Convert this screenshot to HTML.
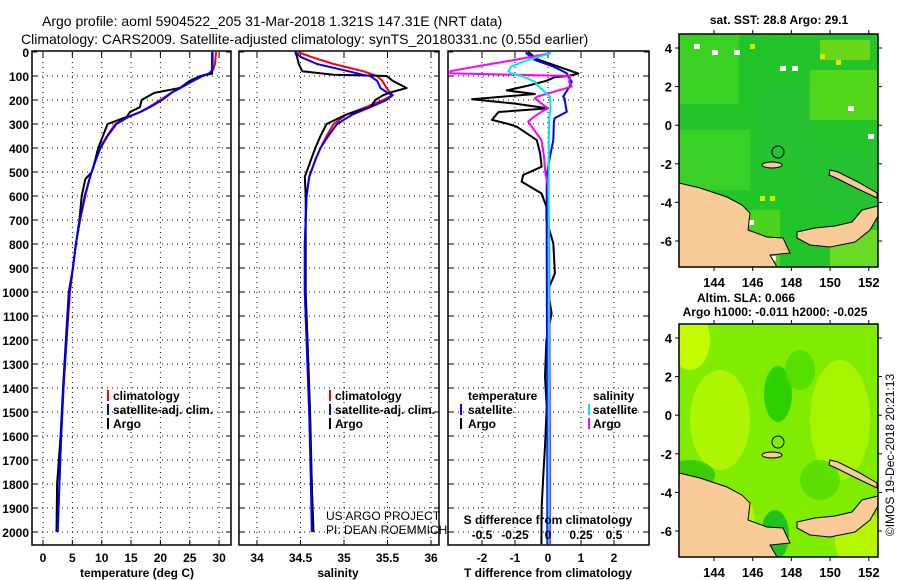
<!DOCTYPE html>
<html><head><meta charset="utf-8"><style>
html,body{margin:0;padding:0;background:#fff;}
svg{display:block;font-family:"Liberation Sans",sans-serif;}
.tk{font-size:12px;font-weight:bold;fill:#000;}
.tt{font-size:14px;fill:#000;}
.lg{font-size:12px;font-weight:bold;fill:#000;}
</style></head><body>
<svg id="chart" width="900" height="580" viewBox="0 0 900 580">
<g id="titles">
<text class="tt" x="42" y="26">Argo profile: aoml 5904522_205 31-Mar-2018 1.321S 147.31E (NRT data)</text>
<text class="tt" x="21" y="44">Climatology: CARS2009. Satellite-adjusted climatology: synTS_20180331.nc (0.55d earlier)</text>
</g>
<g id="panels"></g>
<g id="maps"></g>
<text class="tk" transform="translate(894,455) rotate(-90)" text-anchor="middle" style="font-weight:normal;font-size:12px">©IMOS 19-Dec-2018 20:21:13</text>
</svg>
<script>
// ---- shared depth axis ----
const depthTicks = [0,100,200,300,400,500,600,700,800,900,1000,1100,1200,1300,1400,1500,1600,1700,1800,1900,2000];
// ---- temperature panel data ----
const tDepth = [0,20,50,75,90,100,120,150,170,200,230,250,270,300,350,400,450,500,530,600,700,800,900,1000,1200,1400,1600,1800,2000];
const tempClim = [29.5,29.4,29.3,29.0,28.2,27.0,25.5,23.3,21.8,20.0,18.0,16.5,14.5,12.3,10.9,9.7,9.0,8.3,7.9,7.2,6.3,5.6,5.1,4.6,4.0,3.5,3.1,2.8,2.5];
const tempSat = [28.9,28.9,28.9,28.8,28.4,27.2,25.6,23.4,21.9,20.3,18.2,16.6,14.6,12.5,11.0,9.8,9.0,8.3,7.9,7.1,6.3,5.6,5.1,4.5,4.0,3.5,3.1,2.8,2.5];
const tempArgo = [28.8,28.8,28.8,28.8,28.8,26.8,25.0,23.3,19.0,16.8,16.5,14.8,14.3,11.0,10.2,9.4,8.9,8.3,7.2,6.6,6.2,5.6,5.1,4.4,3.9,3.4,3.0,2.4,2.3];
// ---- salinity panel data ----
const sDepth = [0,20,50,80,95,100,120,150,170,180,200,230,260,300,350,400,450,520,600,800,1000,1200,1500,1800,2000];
const salClim = [34.47,34.62,34.88,35.22,35.34,35.38,35.44,35.49,35.53,35.56,35.45,35.25,35.03,34.88,34.80,34.73,34.67,34.60,34.57,34.55,34.55,34.57,34.60,34.63,34.64];
const salSat = [34.44,34.50,34.69,35.05,35.22,35.30,35.38,35.42,35.50,35.56,35.49,35.30,35.10,34.92,34.82,34.73,34.67,34.60,34.57,34.55,34.55,34.57,34.60,34.62,34.63];
const salArgo = [34.44,34.46,34.48,34.52,34.88,35.49,35.56,35.72,35.52,35.45,35.36,35.30,35.03,34.80,34.73,34.67,34.62,34.55,34.56,34.56,34.56,34.58,34.61,34.63,34.65];
// ---- difference panel data ----
const dtDepth = [0,30,90,100,105,120,140,160,175,197,215,235,250,283,300,311,367,422,478,512,540,589,644,700,797,922,992,1089,1200,1353,1478,1644,1756,1894,2050];
const dtArgo = [-0.6,-0.33,0.92,0.6,0.2,-0.05,-0.6,-1.25,-0.4,-2.3,-1.0,0.0,-1.5,-1.7,-1.2,-0.95,-0.34,-0.24,-0.19,-0.75,-0.8,-0.2,-0.05,-0.05,0.16,0.21,0.0,0.11,-0.05,-0.09,-0.04,-0.09,-0.14,-0.19,-0.2];
const dsDepth = [0,6,33,61,80,89,100,124,144,186,193,235,249,276,290,367,436,506,561,800,1200,1600,2050];
const dtSat = [-0.65,-0.65,-0.4,0.16,0.45,0.57,0.6,0.72,0.65,0.46,0.5,0.55,0.57,0.2,0.18,0.16,0.06,-0.03,-0.04,-0.04,-0.03,-0.02,-0.02];
const dsArgo = [0.015,0.015,-0.25,-0.55,-0.74,-0.74,0.17,0.16,0.18,-0.08,-0.1,0.0,-0.05,-0.12,-0.15,-0.05,-0.03,-0.02,0.0,0.01,0.012,0.015,0.015];
const dsSat = [0.015,0.015,-0.15,-0.28,-0.3,-0.28,-0.2,-0.1,-0.07,0.015,0.015,0.02,0.015,0.01,0.008,0.006,0.006,0.005,0.005,0.005,0.005,0.005,0.005];
// ---- tick labels ----
const tempTicks = [0,5,10,15,20,25,30];
const salTicks = [34,34.5,35,35.5,36];
const dtTicks = [-2,-1,0,1,2];
const dsTicks = [-0.5,-0.25,0,0.25,0.5];
const dsTickLabels = ['-0.5','-0.25','0','0.25','0.5'];
const lonTicks = [144,146,148,150,152];
const latTicks = [4,2,0,-2,-4,-6];

const NS='http://www.w3.org/2000/svg';
function mk(tag, attrs, parent){const e=document.createElementNS(NS,tag);for(const k in attrs)e.setAttribute(k,attrs[k]);parent.appendChild(e);return e;}
const top0=52, pxPerM=0.24, bot=545;
const yD = d => top0 + d*pxPerM;
const xT = t => 43 + t*5.87;
const xS = s => 257 + (s-34)*87;
const xDT = v => 548 + v*33;
const xDS = v => 548 + v*132;

const panels=document.getElementById('panels');
function panelBox(x0,x1,name,xticks,xf){
  const g=mk('g',{},panels);
  
  
  depthTicks.forEach(d=>{ if(d>0){const l=mk('line',{x1:x0,x2:x1,y1:yD(d),y2:yD(d),stroke:'#000','stroke-width':1,'stroke-dasharray':'1,4'},g);
     }});
  xticks.forEach(v=>{const x=xf(v);const l=mk('line',{x1:x,x2:x,y1:top0,y2:bot,stroke:'#000','stroke-width':1,'stroke-dasharray':'1,4'},g);
     
    mk('line',{x1:x,x2:x,y1:top0,y2:top0+5,stroke:'#000'},g); mk('line',{x1:x,x2:x,y1:bot-5,y2:bot,stroke:'#000'},g);});
  depthTicks.forEach(d=>{mk('line',{x1:x0,x2:x0+5,y1:yD(d),y2:yD(d),stroke:'#000'},g);mk('line',{x1:x1-5,x2:x1,y1:yD(d),y2:yD(d),stroke:'#000'},g);});
  const r=mk('rect',{x:x0,y:top0-1,width:x1-x0,height:bot-top0+1,fill:'none',stroke:'#000','stroke-width':1.5},g);
   
  return g;
}
function line(g,depths,vals,xf,color,name,w){
  const pts=depths.map((d,i)=>xf(vals[i]).toFixed(1)+','+yD(d).toFixed(1)).join(' ');
  const p=mk('polyline',{points:pts,fill:'none',stroke:color,'stroke-width':w||2,'stroke-linejoin':'round'},g);
  
  
}
function txt(g,x,y,s,cls,anchor,name){const t=mk('text',{x:x,y:y,class:cls,'text-anchor':anchor||'start'},g);t.textContent=s;
    return t;}

const ya=mk('g',{},panels);
 
depthTicks.forEach(d=>txt(ya,29,yD(d)+5,String(d),'tk','end','depth-tick-label'));

const p1=panelBox(32,231,'temperature-panel',tempTicks,xT);
line(p1,tDepth,tempClim,xT,'#ff0000','temperature-climatology-line');
line(p1,tDepth,tempArgo,xT,'#000000','temperature-argo-line');
line(p1,tDepth,tempSat,xT,'#0000ff','temperature-satellite-line');
tempTicks.forEach(v=>txt(p1,xT(v),562,String(v),'tk','middle','temperature-tick-label'));
txt(p1,137,577,'temperature (deg C)','tk','middle','x-axis-title-temperature');
const p2=panelBox(239,439,'salinity-panel',salTicks,xS);
line(p2,sDepth,salClim,xS,'#ff0000','salinity-climatology-line');
line(p2,sDepth,salArgo,xS,'#000000','salinity-argo-line');
line(p2,sDepth,salSat,xS,'#0000ff','salinity-satellite-line');
salTicks.forEach((v,i)=>txt(p2,xS(v),562,['34','34.5','35','35.5','36'][i],'tk','middle','salinity-tick-label'));
txt(p2,338,577,'salinity','tk','middle','x-axis-title-salinity');
txt(p2,326,520,'US ARGO PROJECT','tk','start','credit-project').style.fontWeight='normal';
txt(p2,326,534,'PI: DEAN ROEMMICH','tk','start','credit-pi').style.fontWeight='normal';
[[p1,107],[p2,329]].forEach(([g,x])=>{
  [['#ff0000','climatology'],['#0000ff','satellite-adj. clim.'],['#000000','Argo']].forEach((e,i)=>{
    const y=400+i*14;
    const b=mk('rect',{x:x,y:y-10,width:2,height:11,fill:e[0]},g);
     
    txt(g,x+6,y,e[1],'lg','start','legend-entry');
  });
});
const p3=panelBox(448,649,'difference-panel',dtTicks,xDT);
line(p3,dtDepth,dtArgo,xDT,'#000000','t-diff-argo-line');
line(p3,dsDepth,dtSat,xDT,'#0000ff','t-diff-satellite-line');
line(p3,dsDepth,dsArgo,xDS,'#ff00ff','s-diff-argo-line');
line(p3,dsDepth,dsSat,xDS,'#00e5ee','s-diff-satellite-line');
dtTicks.forEach(v=>txt(p3,xDT(v),562,String(v),'tk','middle','t-diff-tick-label'));
dsTicks.forEach((v,i)=>txt(p3,xDS(v),539,dsTickLabels[i],'tk','middle','s-diff-tick-label'));
txt(p3,548,524,'S difference from climatology','tk','middle','s-diff-axis-title');
txt(p3,548,577,'T difference from climatology','tk','middle','x-axis-title-t-diff');
[[460,'temperature',null],[460,'satellite','#0000ff'],[460,'Argo','#000000']].forEach((e,i)=>{
  const y=400+i*14; if(e[2]){const b=mk('rect',{x:e[0],y:y-10,width:2,height:11,fill:e[2]},p3);}
  txt(p3,468,y,e[1],'lg','start','legend-entry');});
[['salinity',null],['satellite','#00e5ee'],['Argo','#ff00ff']].forEach((e,i)=>{
  const y=400+i*14; if(e[1]){const b=mk('rect',{x:588,y:y-10,width:2,height:11,fill:e[1]},p3);}
  txt(p3,593,y,e[0],'lg','start','legend-entry');});

const maps=document.getElementById('maps');
const lonX = lon => 714 + (lon-144)*19.35;
const latY = lat => 48 + (4-lat)*19.3;
function drawMap(dy,name,sst){
  const g=mk('g',{transform:'translate(0,'+dy+')'},maps);
  
  
  const cp='clip'+dy;
  const c=mk('clipPath',{id:cp},g); mk('rect',{x:679,y:34,width:199,height:233},c);
  const f=mk('g',{'clip-path':'url(#'+cp+')'},g);
  if(sst){
    mk('rect',{x:679,y:34,width:199,height:233,fill:'#22c42a'},f);
    [[679,34,60,70,'#44d622'],[760,90,60,70,'#2ac236'],[810,70,68,50,'#66e018'],[680,130,70,60,'#44d626'],[800,150,78,60,'#26c034'],[700,210,80,57,'#5cdc18'],[830,230,48,37,'#88e622'],[820,40,50,20,'#88e010']].forEach(r=>mk('rect',{x:r[0],y:r[1],width:r[2],height:r[3],fill:r[4],opacity:0.7},f));
    [[694,44],[712,50],[734,50],[780,66],[792,66],[848,106],[868,134],[748,220],[770,256]].forEach(p=>mk('rect',{x:p[0],y:p[1],width:6,height:5,fill:'#fff'},f));
    [[750,44],[820,54],[836,60],[770,196],[760,196],[782,244]].forEach(p=>mk('rect',{x:p[0],y:p[1],width:5,height:5,fill:'#dde800'},f));
  } else {
    mk('rect',{x:679,y:34,width:199,height:233,fill:'#80ec00'},f);
    [[720,130,30,50,'#b8f800'],[690,50,20,30,'#d6ff00'],[840,130,30,60,'#b0f600'],[860,250,25,30,'#c4fb00'],[730,230,25,30,'#b8f800']].forEach(e=>mk('ellipse',{cx:e[0],cy:e[1],rx:e[2],ry:e[3],fill:e[4],opacity:0.8},f));
    [[778,104,14,28,'#20cc00'],[800,80,15,20,'#50dd00'],[775,245,14,25,'#10bb20'],[690,185,25,15,'#30c800'],[820,190,20,20,'#55dd00']].forEach(e=>mk('ellipse',{cx:e[0],cy:e[1],rx:e[2],ry:e[3],fill:e[4],opacity:0.85},f));
  }
  const land='#f9cb99';
  const ng=mk('polygon',{points:'679,183 700,188 727,197 742,205 750,213 748,230 767,237 783,238 790,253 770,255 777,267 679,267',fill:land,stroke:'#000','stroke-width':1},f);
   
  const nb=mk('polygon',{points:'797,232 815,228 835,226 852,222 862,210 878,206 878,216 870,230 855,242 830,247 810,245 797,238',fill:land,stroke:'#000','stroke-width':1},f);
   
  const ni=mk('polygon',{points:'830,170 838,172 858,182 877,193 877,198 856,188 836,178 829,175',fill:land,stroke:'#000','stroke-width':1},f);
   
  const mi=mk('ellipse',{cx:772,cy:165,rx:10,ry:3,fill:land,stroke:'#000','stroke-width':1},f);
   
  const ci=mk('circle',{cx:778,cy:152,r:6,fill:'none',stroke:'#000','stroke-width':1},g);
   
  mk('rect',{x:679,y:34,width:199,height:233,fill:'none',stroke:'#000','stroke-width':1.5},g);
  lonTicks.forEach(v=>{const x=lonX(v);mk('line',{x1:x,x2:x,y1:30,y2:34,stroke:'#000'},g);mk('line',{x1:x,x2:x,y1:267,y2:271,stroke:'#000'},g);
    txt(g,x,287,String(v),'tk','middle','longitude-tick-label').style.fontSize='13px';});
  latTicks.forEach(v=>{const y=latY(v);mk('line',{x1:675,x2:679,y1:y,y2:y,stroke:'#000'},g);mk('line',{x1:878,x2:882,y1:y,y2:y,stroke:'#000'},g);
    txt(g,672,y+5,String(v),'tk','end','latitude-tick-label').style.fontSize='13px';});
  return g;
}
const m1=drawMap(0,'sst-map',true);
txt(m1,779,24,'sat. SST: 28.8 Argo: 29.1','tk','middle','sst-map-title');
const m2=drawMap(290,'sla-map',false);
const mt=document.getElementById('maps');
txt(mt,746,302,'Altim. SLA: 0.066','tk','middle','sla-map-title');
txt(mt,775,316,'Argo h1000: -0.011 h2000: -0.025','tk','middle','sla-map-subtitle');
</script>
</body></html>
